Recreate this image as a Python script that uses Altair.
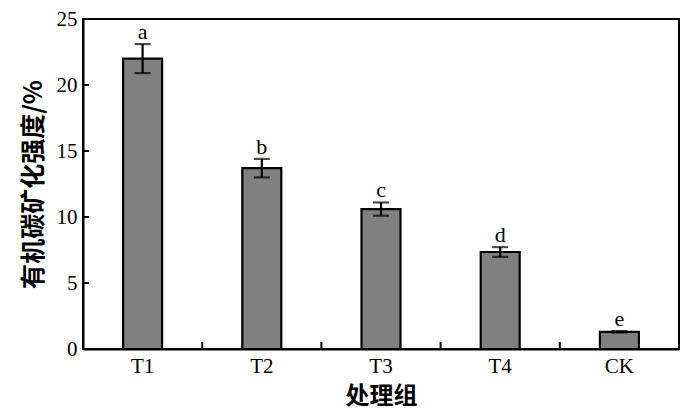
import altair as alt
import pandas as pd

groups = ["T1", "T2", "T3", "T4", "CK"]
values = [22.0, 13.7, 10.6, 7.35, 1.3]
errors = [1.1, 0.7, 0.5, 0.37, 0.06]
letters = ["a", "b", "c", "d", "e"]
y_ticks = [0, 5, 10, 15, 20, 25]

df = pd.DataFrame({"group": groups, "value": values, "err": errors, "letter": letters})
df["lo"] = df["value"] - df["err"]
df["hi"] = df["value"] + df["err"]
tick_df = pd.DataFrame({"t": y_ticks})

SERIF = "Liberation Serif"
CJK = "Noto Sans CJK SC"
W = 596
H = 330

xscale = alt.Scale(domain=groups, paddingInner=0, paddingOuter=0)
yscale = alt.Scale(domain=[0, 25], nice=False)

x_enc = alt.X("group:N", sort=groups, scale=xscale,
              axis=alt.Axis(title="处理组", titleFont=CJK, titleFontSize=24, titleFontWeight="bold",
                            titleColor="black", titlePadding=8,
                            labelFont=SERIF, labelFontSize=21, labelColor="black", labelAngle=0,
                            labelPadding=6, ticks=False, tickSize=0, domainColor="black", domainWidth=2))

bars = alt.Chart(df).mark_bar(color="#808080", stroke="black", strokeWidth=2.2,
                              width=alt.RelativeBandSize(0.327)).encode(
    x=x_enc,
    y=alt.Y("value:Q", scale=yscale,
            axis=alt.Axis(title="有机碳矿化强度/%", titleFont=CJK, titleFontSize=25, titleFontWeight="bold",
                          titleColor="black", titlePadding=10, values=y_ticks,
                          labelFont=SERIF, labelFontSize=21, labelColor="black", labelPadding=6,
                          ticks=False, tickSize=0, grid=False, domainColor="black", domainWidth=2)),
)

err_rule = alt.Chart(df).mark_rule(color="black", strokeWidth=2.2).encode(
    x=alt.X("group:N", sort=groups, scale=xscale),
    y=alt.Y("lo:Q", scale=yscale),
    y2="hi:Q",
)
cap_hi = alt.Chart(df).mark_tick(color="black", orient="horizontal", size=16, thickness=2.2).encode(
    x=alt.X("group:N", sort=groups, scale=xscale),
    y=alt.Y("hi:Q", scale=yscale),
)
cap_lo = alt.Chart(df).mark_tick(color="black", orient="horizontal", size=16, thickness=2.2).encode(
    x=alt.X("group:N", sort=groups, scale=xscale),
    y=alt.Y("lo:Q", scale=yscale),
)
labels = alt.Chart(df).mark_text(font=SERIF, fontSize=22, color="black", baseline="alphabetic", dy=-5).encode(
    x=alt.X("group:N", sort=groups, scale=xscale),
    y=alt.Y("hi:Q", scale=yscale),
    text="letter:N",
)
x_ticks = alt.Chart(df).mark_rule(color="black", strokeWidth=2).encode(
    x=alt.X("group:N", sort=groups, scale=xscale, bandPosition=0),
    y=alt.value(H - 7),
    y2=alt.value(H),
)
y_tick_marks = alt.Chart(tick_df).mark_rule(color="black", strokeWidth=2).encode(
    y=alt.Y("t:Q", scale=yscale),
    x=alt.value(0),
    x2=alt.value(6),
)
frame_top = alt.Chart(df).mark_rule(color="black", strokeWidth=1.5).encode(
    x=alt.value(0), x2=alt.value(W), y=alt.value(0),
)
frame_right = alt.Chart(df).mark_rule(color="black", strokeWidth=2).encode(
    x=alt.value(W), y=alt.value(0), y2=alt.value(H),
)

chart = alt.layer(bars, err_rule, cap_hi, cap_lo, labels, x_ticks, y_tick_marks,
                  frame_top, frame_right).properties(
    width=W, height=H,
    autosize=alt.AutoSizeParams(type="none"),
    padding={"left": 75, "top": 11, "right": 10, "bottom": 63},
    background="white",
).configure_view(stroke="black", strokeWidth=2)

chart.save("out.html", embed_options={"renderer": "svg", "actions": False})
